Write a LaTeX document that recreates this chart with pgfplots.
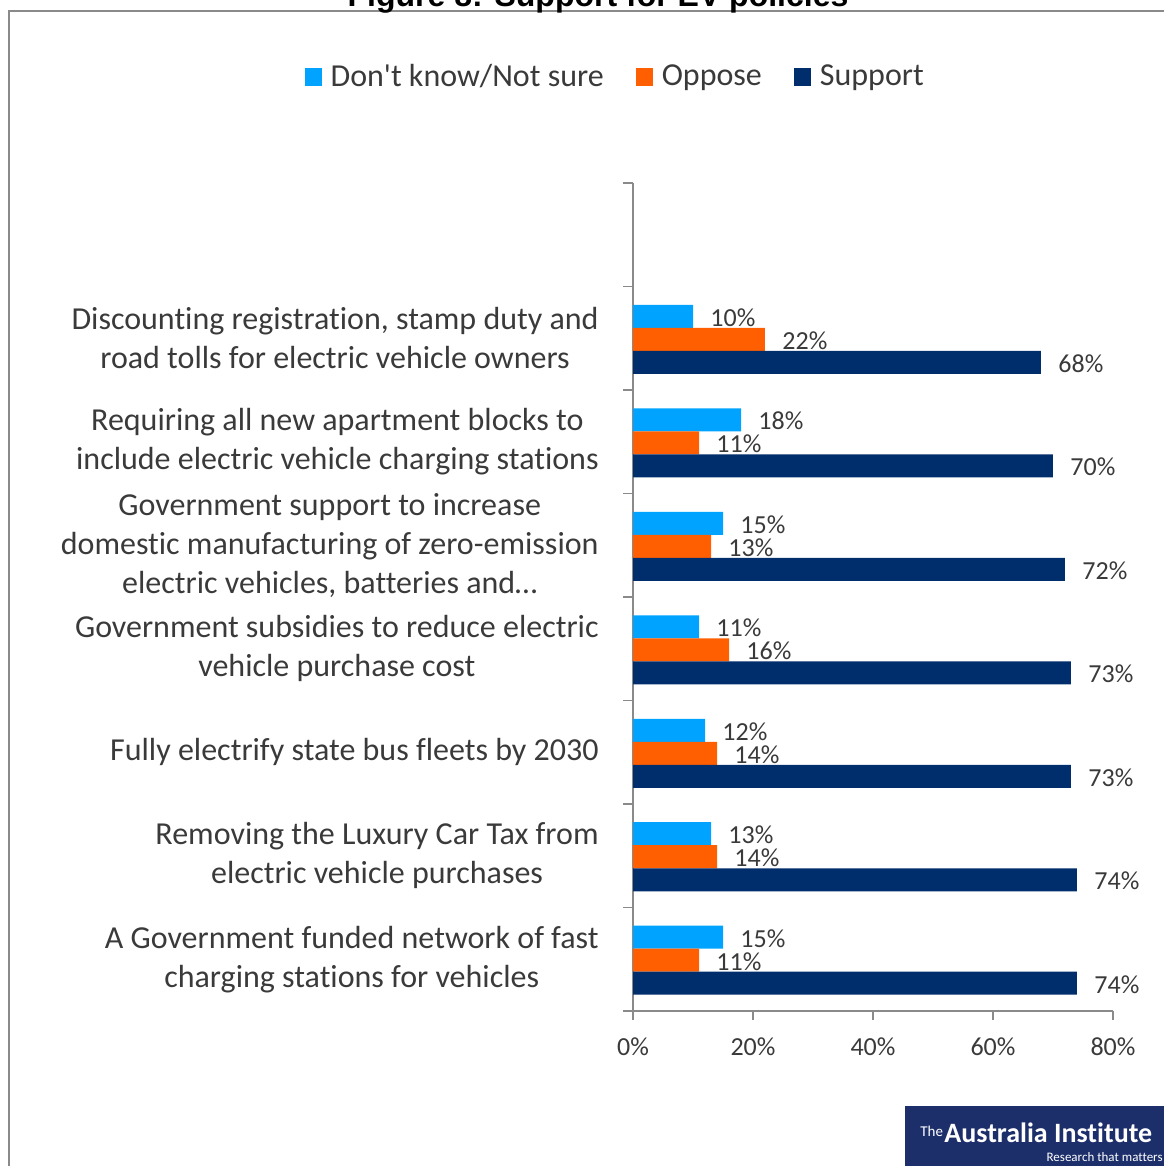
\documentclass[border=0pt]{standalone}
\usepackage{pgfplots}
\pgfplotsset{compat=1.18}
\usepackage{fontspec}
\setmainfont{Carlito}[Ligatures={NoCommon}]
\newfontfamily\arialfont{Liberation Sans}
\definecolor{cblue}{HTML}{00A3FF}
\definecolor{corange}{HTML}{FF5F00}
\definecolor{cnavy}{HTML}{002D6B}
\definecolor{txt}{HTML}{3A3A3A}
\definecolor{axgray}{HTML}{8A8A8A}
\definecolor{logonavy}{HTML}{1D2F6A}
\begin{document}
\begin{tikzpicture}
\useasboundingbox (0,0) rectangle (581.5pt,583pt);
% frame and title
\draw[axgray, line width=1pt] (4.5pt,-10pt) rectangle (600pt,577.5pt);
\node[anchor=base, inner sep=0pt, font=\arialfont\bfseries\fontsize{16}{19}\selectfont] at (299pt,579.5pt) {Figure 8: Support for EV policies};
\begin{axis}[
  at={(316.5pt,77.5pt)}, anchor=south west,
  scale only axis, width=240pt, height=414pt,
  xbar, bar width=11.5pt,
  xmin=0, xmax=80, ymin=-0.5, ymax=7.5,
  axis lines*=left,
  axis line style={axgray, line width=0.8pt},
  every tick/.style={axgray, line width=0.8pt},
  tick align=outside,
  xtick={0,20,40,60,80},
  xticklabels={0\%,20\%,40\%,60\%,80\%},
  xtick pos=bottom,
  major tick length=4.5pt,
  xticklabel style={font=\fontsize{13}{15}\selectfont, text=txt, yshift=-5.5pt},
  ytick={0,1,2,3,4,5,6},
  ytick style={draw=none},
  yticklabels={
    {A Government funded network of fast\\charging stations for vehicles},
    {Removing the Luxury Car Tax from\\electric vehicle purchases},
    {Fully electrify state bus fleets by 2030},
    {Government subsidies to reduce electric\\vehicle purchase cost},
    {Government support to increase\\domestic manufacturing of zero-emission\\electric vehicles, batteries and\ldots},
    {Requiring all new apartment blocks to\\include electric vehicle charging stations},
    {Discounting registration, stamp duty and\\road tolls for electric vehicle owners}},
  yticklabel style={align=center, anchor=east, inner sep=0pt, xshift=-12.5pt, text=txt,
    font=\fontsize{16}{19.5}\selectfont},
  extra y ticks={-0.5,0.5,1.5,2.5,3.5,4.5,5.5,6.5,7.5},
  extra y tick labels={},
  extra y tick style={ytick style={draw=axgray}, major tick length=5pt, tick pos=left},
  nodes near coords={\pgfmathprintnumber[assume math mode=true]{\pgfplotspointmeta}\%},
  every node near coord/.append style={anchor=west, inner sep=0pt, xshift=8.5pt, yshift=-0.7pt,
    font=\fontsize{13}{15}\selectfont, text=txt},
  legend style={at={(-0.035,1.128)}, anchor=center, draw=none, fill=none,
    font=\fontsize{16}{18}\selectfont, text=txt,
    /tikz/every odd column/.append style={column sep=2.5pt},
    /tikz/every even column/.append style={column sep=14pt}},
  legend columns=-1,
  legend image code/.code={\fill[#1] (0pt,-4.5pt) rectangle (8.5pt,4.5pt);},
]
\addplot[fill=cblue, draw=none, bar shift=11pt] coordinates {(15,0) (13,1) (12,2) (11,3) (15,4) (18,5) (10,6)};
\addplot[fill=corange, draw=none, bar shift=-0.5pt] coordinates {(11,0) (14,1) (14,2) (16,3) (13,4) (11,5) (22,6)};
\addplot[fill=cnavy, draw=none, bar shift=-12pt] coordinates {(74,0) (74,1) (73,2) (73,3) (72,4) (70,5) (68,6)};
\legend{Don\textquotesingle t know/Not sure, Oppose, Support}
\end{axis}
% logo
\fill[logonavy] (452.5pt,0pt) rectangle (600pt,30pt);
\node[anchor=base west, inner sep=0pt, text=white, font=\fontsize{7.5}{9}\selectfont] at (460pt,14.5pt) {The};
\node[anchor=base west, inner sep=0pt, text=white, font=\bfseries\fontsize{14}{16}\selectfont] at (472pt,12pt) {Australia Institute};
\node[anchor=base east, inner sep=0pt, text=white, font=\fontsize{6.5}{8}\selectfont] at (581.5pt,2pt) {Research that matters};
\end{tikzpicture}
\end{document}
